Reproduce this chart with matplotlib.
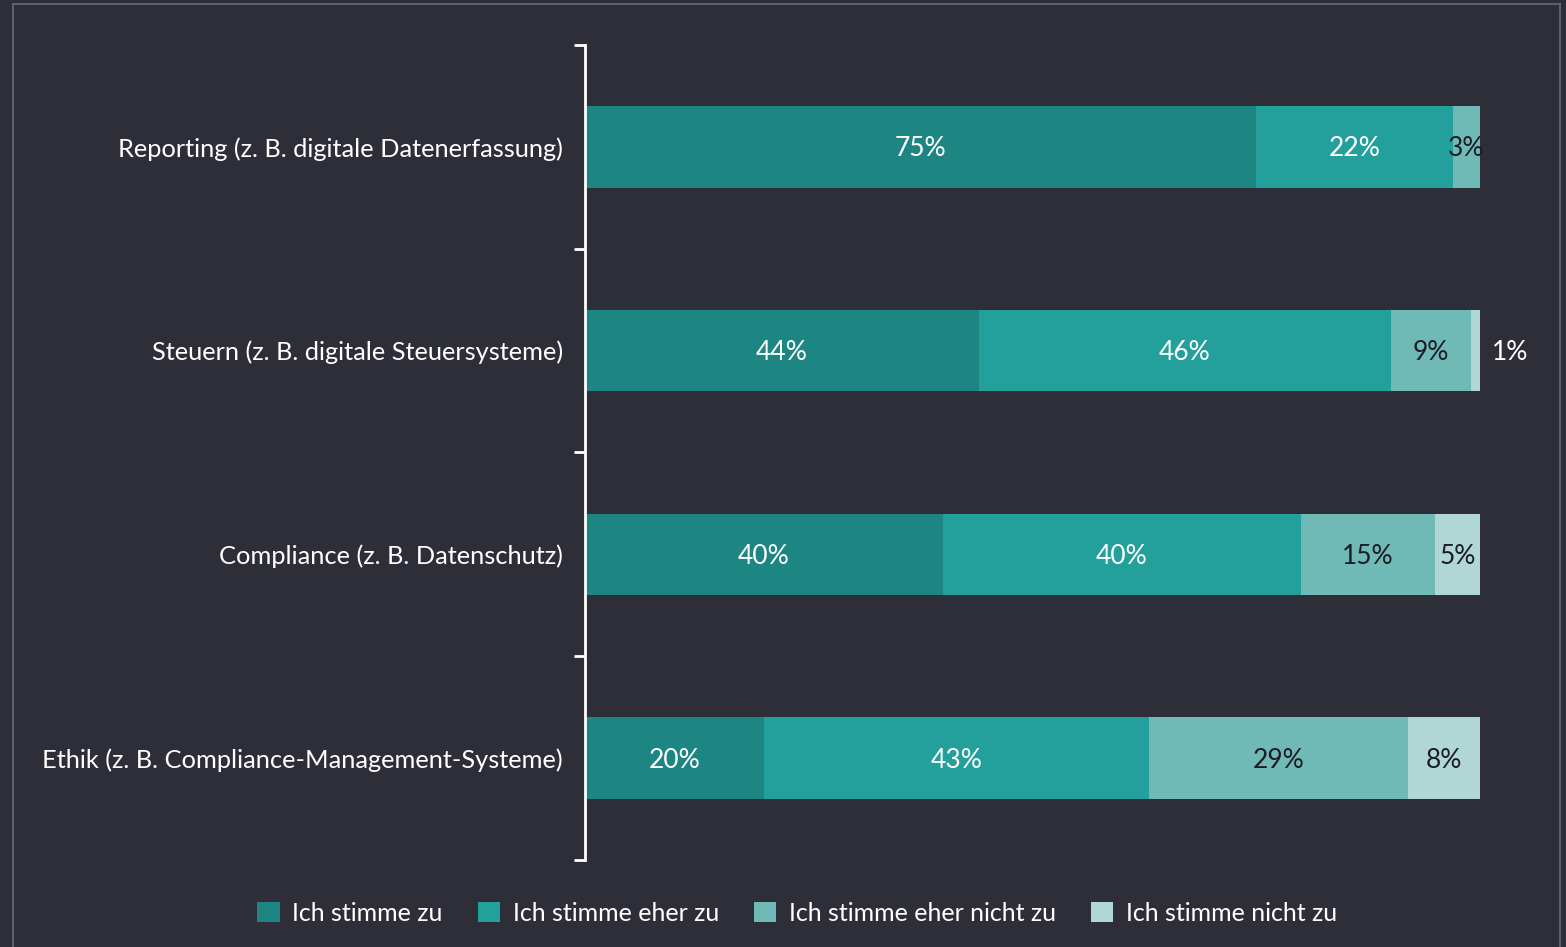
import numpy as np
import matplotlib.pyplot as plt
from matplotlib.lines import Line2D

categories = ["Reporting (z. B. digitale Datenerfassung)",
              "Steuern (z. B. digitale Steuersysteme)",
              "Compliance (z. B. Datenschutz)",
              "Ethik (z. B. Compliance-Management-Systeme)"]
series = ["Ich stimme zu", "Ich stimme eher zu",
          "Ich stimme eher nicht zu", "Ich stimme nicht zu"]
zu = [75, 44, 40, 20]
eher_zu = [22, 46, 40, 43]
eher_nicht = [3, 9, 15, 29]
nicht = [0, 1, 5, 8]

colors = ["#1d8683", "#23a09c", "#6fbab7", "#b0d6d6"]
text_colors = ["white", "white", "#1c1c24", "#1c1c24"]
bg = "#2e2e38"

plt.rcParams['font.family'] = ['Lato', 'DejaVu Sans']

fig = plt.figure(figsize=(15.66, 9.47), dpi=100, facecolor=bg)
ax = fig.add_axes([585/1566, 1 - 860/947, 895/1566, 815/947])
ax.set_facecolor(bg)

y = np.arange(len(categories))[::-1]
left = np.zeros(len(categories))
for vals, col, tcol, name in zip([zu, eher_zu, eher_nicht, nicht], colors, text_colors, series):
    vals = np.array(vals, dtype=float)
    ax.barh(y, vals, left=left, height=0.4, color=col, linewidth=0, label=name)
    for yi, l, v in zip(y, left, vals):
        if v <= 0:
            continue
        if v < 2:
            ax.text(l + v + 1.3, yi - 0.01, f"{int(v)}%", ha="left", va="center",
                    color="white", fontsize=19)
        else:
            ax.text(l + v / 2, yi - 0.01, f"{int(v)}%", ha="center", va="center",
                    color=tcol, fontsize=19)
    left += vals

ax.set_xlim(0, 100)
ax.set_ylim(-0.5, len(categories) - 0.5)
ax.set_yticks(y)
ax.set_yticklabels(categories, color="white", fontsize=18.3)
ax.set_yticks(np.arange(-0.5, len(categories), 1), minor=True)
ax.tick_params(axis="y", which="major", length=0, pad=16)
ax.tick_params(axis="y", which="minor", length=8, width=2, color="white")
ax.set_xticks([])
for s in ["top", "right", "bottom"]:
    ax.spines[s].set_visible(False)
ax.spines["left"].set_color("white")
ax.spines["left"].set_linewidth(2)

leg = fig.legend(loc="center", bbox_to_anchor=(0.509, 1 - 913/947), ncol=4,
                 frameon=False, fontsize=18, handlelength=0.9, handleheight=0.9,
                 columnspacing=1.4, handletextpad=0.5, labelcolor="white")

# frame around chart
fcol = "#6a6a74"
fig.add_artist(Line2D([13/1566, 13/1566], [0, 1 - 4/947], color=fcol, lw=1.2))
fig.add_artist(Line2D([13/1566, 1560/1566], [1 - 4/947, 1 - 4/947], color=fcol, lw=1.2))
fig.add_artist(Line2D([1560/1566, 1560/1566], [0, 1 - 4/947], color=fcol, lw=1.2))

fig.savefig("out.png", dpi=100, facecolor=bg)
